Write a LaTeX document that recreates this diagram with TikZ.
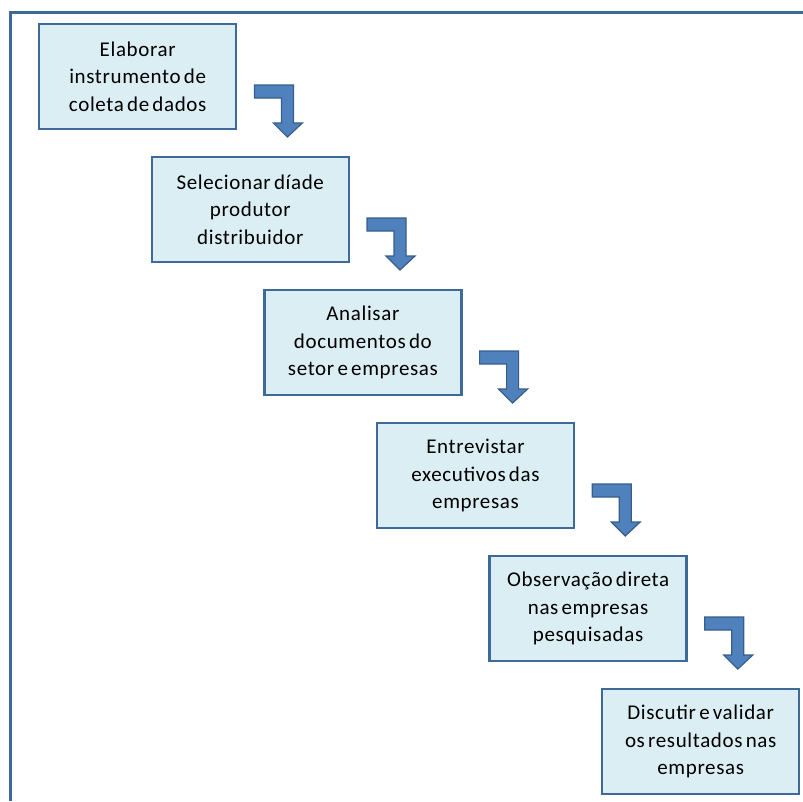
\documentclass[tikz,border=0pt]{standalone}
\usepackage{fontspec}
\setmainfont{Carlito}[LetterSpace=3,WordSpace=0.6]
\usetikzlibrary{calc}
\definecolor{boxfill}{HTML}{DBEEF4}
\definecolor{boxline}{HTML}{3E6A9A}
\definecolor{arrowfill}{HTML}{4F81BD}
\definecolor{arrowline}{HTML}{385D8A}
\definecolor{frameline}{HTML}{3F6797}
\begin{document}
\begin{tikzpicture}[x=1pt,y=-1pt,
  stepbox/.style={draw=boxline,line width=2.4pt,fill=boxfill,
    minimum width=197pt,minimum height=105pt,inner sep=0pt,
    align=center,font=\fontsize{21}{27.5}\selectfont,anchor=north west},
  bentarrow/.style={fill=arrowfill,draw=arrowline,line width=1.2pt,line join=miter}]
\useasboundingbox (0,0) rectangle (803,801);
% outer frame, open to the right and bottom
\draw[frameline,line width=3pt] (10.5,801) -- (10.5,12) -- (803,12);
% process steps
\node[stepbox] (b1) at (38,23) {Elaborar\\instrumento de\\coleta de dados};
\node[stepbox] (b2) at (150.6,156) {Selecionar díade\\produtor\\distribuidor};
\node[stepbox] (b3) at (263.2,289) {Analisar\\documentos do\\setor e empresas};
\node[stepbox] (b4) at (375.8,422) {Entrevistar\\executivos das\\empresas};
\node[stepbox] (b5) at (488.4,555) {Observação direta\\nas empresas\\pesquisadas};
\node[stepbox] (b6) at (601,688) {Discutir e validar\\os resultados nas\\empresas};
% bent arrows between consecutive steps
\foreach \a in {b1,b2,b3,b4,b5}{
  \coordinate (o) at ($(\a.north east)+(17,62)$);
  \draw[bentarrow] (o) -- ++(39,0) -- ++(0,38) -- ++(9,0) -- ++(-15,14)
    -- ++(-14,-14) -- ++(8,0) -- ++(0,-25) -- ++(-27,0) -- cycle;
}
\end{tikzpicture}
\end{document}
